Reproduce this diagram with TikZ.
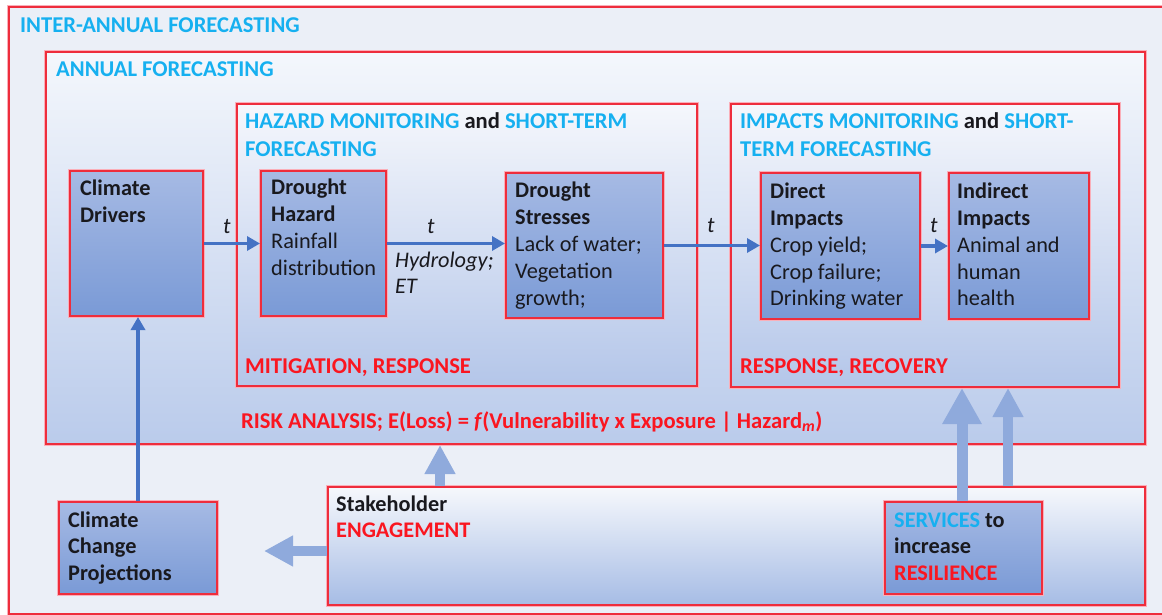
\documentclass[tikz,border=0pt]{standalone}
\usepackage{fontspec}
\setmainfont{Carlito}
\usetikzlibrary{arrows.meta}
\definecolor{cyanT}{RGB}{22,176,240}
\definecolor{redT}{RGB}{250,22,32}
\definecolor{frameR}{RGB}{238,45,60}
\definecolor{glowR}{RGB}{250,175,185}
\definecolor{bgOuter}{RGB}{235,239,247}
\definecolor{panTop}{RGB}{245,247,252}
\definecolor{panBot}{RGB}{180,198,233}
\definecolor{boxTop}{RGB}{166,186,228}
\definecolor{boxBot}{RGB}{122,154,214}
\definecolor{arrDark}{RGB}{68,114,196}
\definecolor{arrLight}{RGB}{143,170,220}
\definecolor{inkT}{RGB}{25,25,30}
\tikzset{
  frame/.style={draw=frameR, line width=2pt, preaction={draw=glowR, line width=4.5pt}},
  panel/.style={frame, top color=panTop, bottom color=panBot, anchor=north west, inner sep=0pt},
  dbox/.style={frame, top color=boxTop, bottom color=boxBot, anchor=north west, inner sep=0pt},
  txt/.style={inner sep=0pt, anchor=base west, text=inkT, font=\fontsize{22.3}{27}\selectfont},
  head/.style={txt, font=\fontsize{22.6}{27.5}\selectfont\bfseries},
  tarrow/.style={draw=arrDark, line width=3.5pt, -{Triangle[length=13pt,width=14pt]}},
  fatarrow/.style={draw=arrLight, line width=9.5pt, -{Triangle[length=29pt,width=29pt]}},
  bigarrow/.style={draw=arrLight, line width=11pt, -{Triangle[length=36pt,width=37pt]}},
}
\newcommand{\cy}[1]{\textcolor{cyanT}{#1}}
\newcommand{\rd}[1]{\textcolor{redT}{#1}}
\newcommand{\ml}[1]{\begin{tabular}[t]{@{}l@{}}#1\end{tabular}}
\begin{document}
\begin{tikzpicture}[x=1pt,y=-1pt]
\useasboundingbox (0,0) rectangle (1162,615);
\clip (0,0) rectangle (1162,615);
\fill[white] (0,0) rectangle (1162,615);
% containers
\node[frame, fill=bgOuter, anchor=north west, inner sep=0pt, minimum width=1170pt, minimum height=607pt] (outer) at (8,6) {};
\node[panel, top color={rgb,255:red,244;green,247;blue,252}, bottom color={rgb,255:red,186;green,203;blue,235}, minimum width=1099pt, minimum height=392pt] (annual) at (45,51) {};
\node[panel, minimum width=460pt, minimum height=282pt] (hazP) at (236,103) {};
\node[panel, minimum width=388pt, minimum height=283pt] (impP) at (730,103) {};
% boxes
\node[dbox, minimum width=133pt, minimum height=145pt] (cd) at (69,170) {};
\node[dbox, minimum width=125pt, minimum height=145pt] (dh) at (260,170) {};
\node[dbox, minimum width=157pt, minimum height=145pt] (ds) at (505,172) {};
\node[dbox, minimum width=159pt, minimum height=146pt] (di) at (760,172) {};
\node[dbox, minimum width=140pt, minimum height=146pt] (ii) at (948,172) {};
\node[dbox, minimum width=158pt, minimum height=92pt] (ccp) at (58,501) {};
\node[panel, top color={rgb,255:red,246;green,248;blue,252}, bottom color={rgb,255:red,166;green,188;blue,229}, minimum width=817pt, minimum height=118pt] (stk) at (327,486) {};
\node[dbox, minimum width=157pt, minimum height=92pt] (srv) at (884,501) {};
% headings
\node[head, text=cyanT] (tInter) at (20,33) {INTER-ANNUAL FORECASTING};
\node[head, text=cyanT] (tAnnual) at (56,77) {ANNUAL FORECASTING};
\node[head] (tHaz) at (245,129) {\ml{\cy{HAZARD MONITORING} and \cy{SHORT-TERM}\\\cy{FORECASTING}}};
\node[head] (tImp) at (740,129) {\ml{\cy{IMPACTS MONITORING} and \cy{SHORT-}\\\cy{TERM FORECASTING}}};
\node[head, text=redT] (tMit) at (245,373) {MITIGATION, RESPONSE};
\node[head, text=redT] (tResp) at (740,373) {RESPONSE, RECOVERY};
\node[head, text=redT] (tRisk) at (241,428) {RISK ANALYSIS; E(Loss) = \textit{f}(Vulnerability x Exposure | Hazard\textsubscript{\itshape m})};
% box texts
\node[txt] (xCD) at (80,195) {\ml{\textbf{Climate}\\\textbf{Drivers}}};
\node[txt] (xDH) at (271,194) {\ml{\textbf{Drought}\\\textbf{Hazard}\\Rainfall\\distribution}};
\node[txt] (xDS) at (515,197) {\ml{\textbf{Drought}\\\textbf{Stresses}\\Lack of water;\\Vegetation\\growth;}};
\node[txt] (xDI) at (770,198) {\ml{\textbf{Direct}\\\textbf{Impacts}\\Crop yield;\\Crop failure;\\Drinking water}};
\node[txt] (xII) at (957,198) {\ml{\textbf{Indirect}\\\textbf{Impacts}\\Animal and\\human\\health}};
\node[txt, font=\fontsize{22.3}{26.5}\selectfont\bfseries] (xCCP) at (68,527) {\ml{Climate\\Change\\Projections}};
\node[txt, font=\fontsize{22.3}{26}\selectfont\bfseries] (xSTK) at (336,511) {\ml{Stakeholder\\\rd{ENGAGEMENT}}};
\node[txt, font=\fontsize{22.3}{26.5}\selectfont\bfseries] (xSRV) at (894,527) {\ml{\cy{SERVICES} to\\increase\\\rd{RESILIENCE}}};
% arrows
\draw[tarrow] (cd.east) -- (dh.west);
\draw[tarrow] (dh.east) -- (dh.east -| ds.west);
\draw[tarrow] (ds.east) -- (ds.east -| di.west);
\draw[tarrow] (di.east) -- (di.east -| ii.west);
\draw[tarrow] (ccp.north) -- (ccp.north |- cd.south);
\node[txt, font=\fontsize{22.3}{27}\selectfont\itshape] (t1) at (223,233) {t};
\node[txt, font=\fontsize{22.3}{27}\selectfont\itshape] (t2) at (427,233) {t};
\node[txt, font=\fontsize{22.3}{27}\selectfont\itshape] (t3) at (707,232) {t};
\node[txt, font=\fontsize{22.3}{27}\selectfont\itshape] (t4) at (930,232) {t};
\node[txt, font=\fontsize{22.3}{26}\selectfont\itshape] (hyd) at (395,267) {\ml{Hydrology;\\ET}};
% fat arrows
\coordinate (ux) at (440,0);
\coordinate (ltip) at (264,551);
\coordinate (s1) at (962,0);
\coordinate (s2) at (1008,0);
\draw[fatarrow] (stk.north -| ux) -- (annual.south -| ux);
\draw[fatarrow] (stk.west |- ltip) -- (ltip);
\draw[bigarrow] (srv.north -| s1) -- (impP.south -| s1);
\draw[fatarrow] (stk.north -| s2) -- (impP.south -| s2);
\end{tikzpicture}
\end{document}
